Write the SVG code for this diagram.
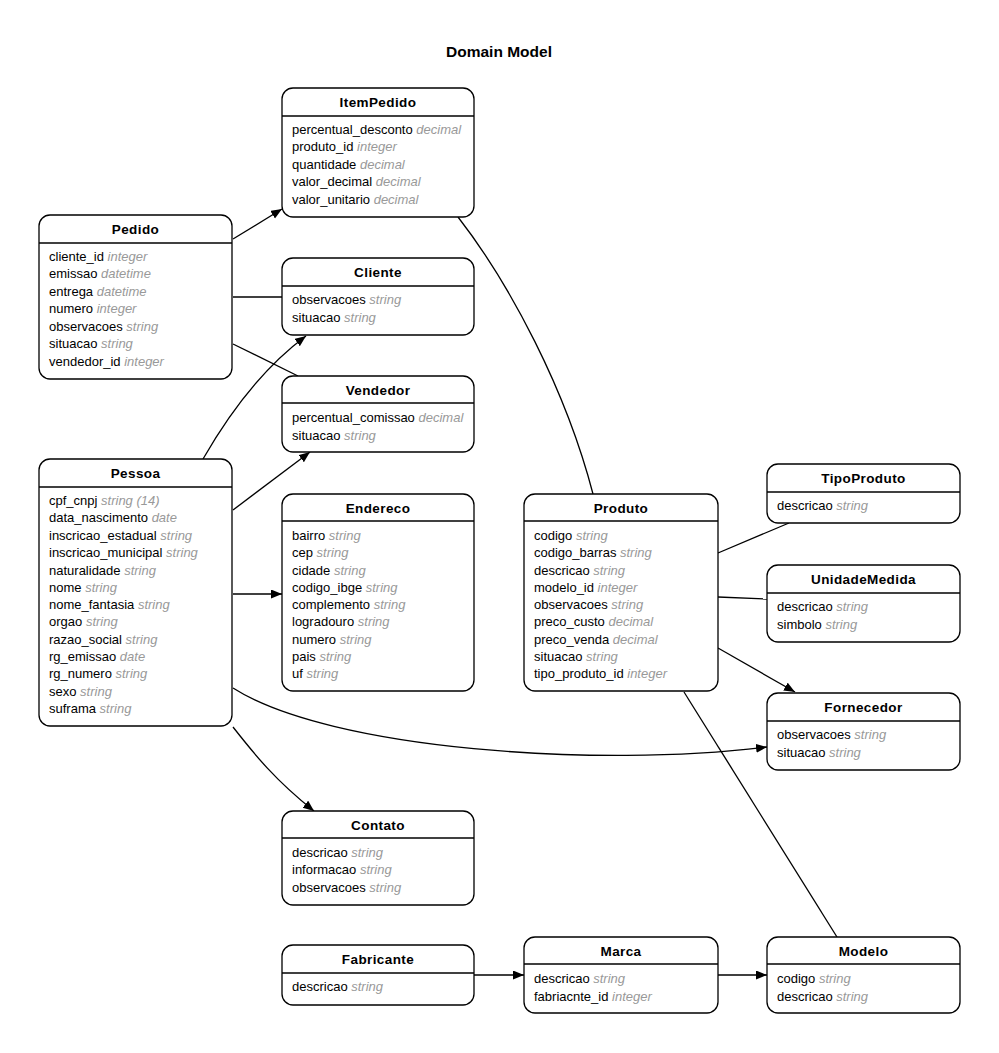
<svg xmlns="http://www.w3.org/2000/svg" width="999" height="1053" viewBox="0 0 999 1053">
  <style>
    .box { fill: #ffffff; stroke: #000000; stroke-width: 1.3; }
    .sep { stroke: #000000; stroke-width: 1.3; }
    .hd { font-family: "Liberation Sans", Arial, sans-serif; font-weight: bold; font-size: 13.5px; letter-spacing: 0.4px; text-anchor: middle; fill: #000; }
    .row { font-family: "Liberation Sans", Arial, sans-serif; font-size: 13px; fill: #000; }
    .ty { fill: #999999; font-style: italic; }
    .title { font-family: "Liberation Sans", Arial, sans-serif; font-weight: bold; font-size: 15.5px; text-anchor: middle; fill: #000; }
    .edge { fill: none; stroke: #000000; stroke-width: 1.3; }
  </style>
  <defs>
    <marker id="arrow" markerUnits="userSpaceOnUse" markerWidth="12" markerHeight="10" refX="11" refY="4.5" orient="auto">
      <path d="M0,0 L11,4.5 L0,9 z" fill="#000"/>
    </marker>
  </defs>
  <rect width="999" height="1053" fill="#ffffff"/>
  <text class="title" x="499" y="57">Domain Model</text>

  <!-- relationships -->
  <g id="connectors">
    <path class="edge" d="M233,239 L282,209" marker-end="url(#arrow)"/>
    <path class="edge" d="M233,297 L282,297"/>
    <path class="edge" d="M233,344 L298,376"/>
    <path class="edge" d="M203,459 C226,419 260,370 306,336" marker-end="url(#arrow)"/>
    <path class="edge" d="M233,510 L310,452" marker-end="url(#arrow)"/>
    <path class="edge" d="M233,594 L282,594" marker-end="url(#arrow)"/>
    <path class="edge" d="M233,688 C330,750 600,768 767,747" marker-end="url(#arrow)"/>
    <path class="edge" d="M233,727 C255,755 275,780 314,811" marker-end="url(#arrow)"/>
    <path class="edge" d="M458,217 C510,284 566,390 593,494"/>
    <path class="edge" d="M718,553 L789,523"/>
    <path class="edge" d="M718,597 L767,599"/>
    <path class="edge" d="M718,648 L795,692" marker-end="url(#arrow)"/>
    <path class="edge" d="M684,692 L837,937"/>
    <path class="edge" d="M474,975 L524,975" marker-end="url(#arrow)"/>
    <path class="edge" d="M718,975 L767,975" marker-end="url(#arrow)"/>
  </g>

  <g id="ItemPedido">
    <rect class="box" x="282" y="88" width="192" height="129" rx="11"/>
    <line class="sep" x1="282" y1="116" x2="474" y2="116"/>
    <text class="hd" x="378" y="107">ItemPedido</text>
    <text class="row" x="292" y="133.5">percentual_desconto <tspan class="ty">decimal</tspan></text>
    <text class="row" x="292" y="151">produto_id <tspan class="ty">integer</tspan></text>
    <text class="row" x="292" y="168.5">quantidade <tspan class="ty">decimal</tspan></text>
    <text class="row" x="292" y="186">valor_decimal <tspan class="ty">decimal</tspan></text>
    <text class="row" x="292" y="203.5">valor_unitario <tspan class="ty">decimal</tspan></text>
  </g>

  <g id="Pedido">
    <rect class="box" x="39" y="215" width="193" height="164" rx="11"/>
    <line class="sep" x1="39" y1="243" x2="232" y2="243"/>
    <text class="hd" x="135.5" y="234">Pedido</text>
    <text class="row" x="49" y="260.5">cliente_id <tspan class="ty">integer</tspan></text>
    <text class="row" x="49" y="278">emissao <tspan class="ty">datetime</tspan></text>
    <text class="row" x="49" y="295.5">entrega <tspan class="ty">datetime</tspan></text>
    <text class="row" x="49" y="313">numero <tspan class="ty">integer</tspan></text>
    <text class="row" x="49" y="330.5">observacoes <tspan class="ty">string</tspan></text>
    <text class="row" x="49" y="348">situacao <tspan class="ty">string</tspan></text>
    <text class="row" x="49" y="365.5">vendedor_id <tspan class="ty">integer</tspan></text>
  </g>

  <g id="Cliente">
    <rect class="box" x="282" y="258" width="192" height="77" rx="11"/>
    <line class="sep" x1="282" y1="286" x2="474" y2="286"/>
    <text class="hd" x="378" y="277">Cliente</text>
    <text class="row" x="292" y="304">observacoes <tspan class="ty">string</tspan></text>
    <text class="row" x="292" y="321.5">situacao <tspan class="ty">string</tspan></text>
  </g>

  <g id="Vendedor">
    <rect class="box" x="282" y="376" width="192" height="76" rx="11"/>
    <line class="sep" x1="282" y1="403" x2="474" y2="403"/>
    <text class="hd" x="378" y="394.5">Vendedor</text>
    <text class="row" x="292" y="422">percentual_comissao <tspan class="ty">decimal</tspan></text>
    <text class="row" x="292" y="439.5">situacao <tspan class="ty">string</tspan></text>
  </g>

  <g id="Pessoa">
    <rect class="box" x="39" y="459" width="193" height="267" rx="11"/>
    <line class="sep" x1="39" y1="487" x2="232" y2="487"/>
    <text class="hd" x="135.5" y="478">Pessoa</text>
    <text class="row" x="49" y="504.5">cpf_cnpj <tspan class="ty">string (14)</tspan></text>
    <text class="row" x="49" y="522">data_nascimento <tspan class="ty">date</tspan></text>
    <text class="row" x="49" y="539.5">inscricao_estadual <tspan class="ty">string</tspan></text>
    <text class="row" x="49" y="557">inscricao_municipal <tspan class="ty">string</tspan></text>
    <text class="row" x="49" y="574.5">naturalidade <tspan class="ty">string</tspan></text>
    <text class="row" x="49" y="591.5">nome <tspan class="ty">string</tspan></text>
    <text class="row" x="49" y="609">nome_fantasia <tspan class="ty">string</tspan></text>
    <text class="row" x="49" y="626">orgao <tspan class="ty">string</tspan></text>
    <text class="row" x="49" y="643.5">razao_social <tspan class="ty">string</tspan></text>
    <text class="row" x="49" y="661">rg_emissao <tspan class="ty">date</tspan></text>
    <text class="row" x="49" y="678">rg_numero <tspan class="ty">string</tspan></text>
    <text class="row" x="49" y="695.5">sexo <tspan class="ty">string</tspan></text>
    <text class="row" x="49" y="713">suframa <tspan class="ty">string</tspan></text>
  </g>

  <g id="Endereco">
    <rect class="box" x="282" y="494" width="192" height="197" rx="11"/>
    <line class="sep" x1="282" y1="521" x2="474" y2="521"/>
    <text class="hd" x="378" y="512.5">Endereco</text>
    <text class="row" x="292" y="539.5">bairro <tspan class="ty">string</tspan></text>
    <text class="row" x="292" y="557">cep <tspan class="ty">string</tspan></text>
    <text class="row" x="292" y="574.5">cidade <tspan class="ty">string</tspan></text>
    <text class="row" x="292" y="591.5">codigo_ibge <tspan class="ty">string</tspan></text>
    <text class="row" x="292" y="609">complemento <tspan class="ty">string</tspan></text>
    <text class="row" x="292" y="626">logradouro <tspan class="ty">string</tspan></text>
    <text class="row" x="292" y="643.5">numero <tspan class="ty">string</tspan></text>
    <text class="row" x="292" y="661">pais <tspan class="ty">string</tspan></text>
    <text class="row" x="292" y="678">uf <tspan class="ty">string</tspan></text>
  </g>

  <g id="Produto">
    <rect class="box" x="524" y="494" width="194" height="197" rx="11"/>
    <line class="sep" x1="524" y1="521" x2="718" y2="521"/>
    <text class="hd" x="621" y="512.5">Produto</text>
    <text class="row" x="534" y="539.5">codigo <tspan class="ty">string</tspan></text>
    <text class="row" x="534" y="557">codigo_barras <tspan class="ty">string</tspan></text>
    <text class="row" x="534" y="574.5">descricao <tspan class="ty">string</tspan></text>
    <text class="row" x="534" y="591.5">modelo_id <tspan class="ty">integer</tspan></text>
    <text class="row" x="534" y="609">observacoes <tspan class="ty">string</tspan></text>
    <text class="row" x="534" y="626">preco_custo <tspan class="ty">decimal</tspan></text>
    <text class="row" x="534" y="643.5">preco_venda <tspan class="ty">decimal</tspan></text>
    <text class="row" x="534" y="661">situacao <tspan class="ty">string</tspan></text>
    <text class="row" x="534" y="678">tipo_produto_id <tspan class="ty">integer</tspan></text>
  </g>

  <g id="TipoProduto">
    <rect class="box" x="767" y="464" width="193" height="59" rx="11"/>
    <line class="sep" x1="767" y1="492" x2="960" y2="492"/>
    <text class="hd" x="863.5" y="483">TipoProduto</text>
    <text class="row" x="777" y="510">descricao <tspan class="ty">string</tspan></text>
  </g>

  <g id="UnidadeMedida">
    <rect class="box" x="767" y="565" width="193" height="77" rx="11"/>
    <line class="sep" x1="767" y1="593" x2="960" y2="593"/>
    <text class="hd" x="863.5" y="584">UnidadeMedida</text>
    <text class="row" x="777" y="611">descricao <tspan class="ty">string</tspan></text>
    <text class="row" x="777" y="628.5">simbolo <tspan class="ty">string</tspan></text>
  </g>

  <g id="Fornecedor">
    <rect class="box" x="767" y="693" width="193" height="77" rx="11"/>
    <line class="sep" x1="767" y1="721" x2="960" y2="721"/>
    <text class="hd" x="863.5" y="712">Fornecedor</text>
    <text class="row" x="777" y="739">observacoes <tspan class="ty">string</tspan></text>
    <text class="row" x="777" y="756.5">situacao <tspan class="ty">string</tspan></text>
  </g>

  <g id="Contato">
    <rect class="box" x="282" y="811" width="192" height="94" rx="11"/>
    <line class="sep" x1="282" y1="838" x2="474" y2="838"/>
    <text class="hd" x="378" y="829.5">Contato</text>
    <text class="row" x="292" y="856.5">descricao <tspan class="ty">string</tspan></text>
    <text class="row" x="292" y="874">informacao <tspan class="ty">string</tspan></text>
    <text class="row" x="292" y="891.5">observacoes <tspan class="ty">string</tspan></text>
  </g>

  <g id="Fabricante">
    <rect class="box" x="282" y="945" width="192" height="60" rx="11"/>
    <line class="sep" x1="282" y1="973" x2="474" y2="973"/>
    <text class="hd" x="378" y="964">Fabricante</text>
    <text class="row" x="292" y="991">descricao <tspan class="ty">string</tspan></text>
  </g>

  <g id="Marca">
    <rect class="box" x="524" y="937" width="194" height="76" rx="11"/>
    <line class="sep" x1="524" y1="964" x2="718" y2="964"/>
    <text class="hd" x="621" y="955.5">Marca</text>
    <text class="row" x="534" y="983">descricao <tspan class="ty">string</tspan></text>
    <text class="row" x="534" y="1000.5">fabriacnte_id <tspan class="ty">integer</tspan></text>
  </g>

  <g id="Modelo">
    <rect class="box" x="767" y="937" width="193" height="76" rx="11"/>
    <line class="sep" x1="767" y1="964" x2="960" y2="964"/>
    <text class="hd" x="863.5" y="955.5">Modelo</text>
    <text class="row" x="777" y="983">codigo <tspan class="ty">string</tspan></text>
    <text class="row" x="777" y="1000.5">descricao <tspan class="ty">string</tspan></text>
  </g>
</svg>
